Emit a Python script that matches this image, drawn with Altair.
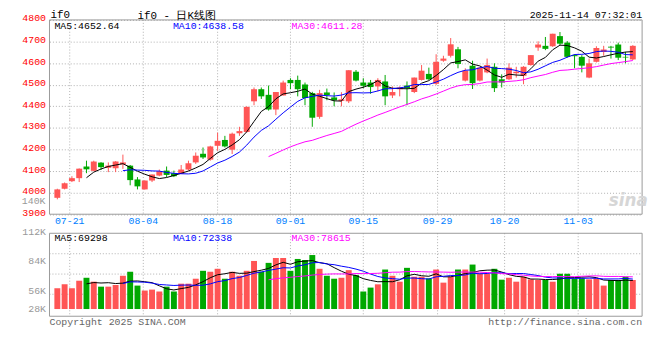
import altair as alt
import pandas as pd

# ---------------- data (IF0 daily K-line) ----------------
OPEN = [3976, 4018, 4053, 4067, 4121, 4101, 4139, 4115, 4113, 4131,
        4125, 4061, 4015, 4056, 4079, 4102, 4090, 4087, 4107, 4140,
        4180, 4153, 4217, 4244, 4199, 4275, 4281, 4423, 4479, 4453,
        4385, 4450, 4522, 4522, 4501, 4461, 4351, 4464, 4441, 4425,
        4423, 4560, 4510, 4510, 4492, 4515, 4450, 4479, 4496, 4466,
        4522, 4550, 4504, 4611, 4634, 4664, 4519, 4588, 4519, 4557,
        4583, 4525, 4525, 4553, 4541, 4591, 4672, 4680, 4678, 4725,
        4695, 4637, 4629, 4533, 4606, 4652, 4676, 4686, 4629, 4617]
HIGH = [4018, 4047, 4076, 4112, 4148, 4148, 4141, 4140, 4146, 4176,
        4128, 4072, 4057, 4084, 4107, 4121, 4102, 4128, 4148, 4186,
        4209, 4217, 4278, 4263, 4278, 4305, 4400, 4487, 4487, 4496,
        4466, 4519, 4530, 4542, 4510, 4467, 4476, 4482, 4464, 4465,
        4567, 4568, 4530, 4522, 4530, 4545, 4492, 4492, 4515, 4533,
        4591, 4579, 4641, 4634, 4716, 4675, 4576, 4611, 4579, 4621,
        4599, 4548, 4599, 4583, 4586, 4637, 4701, 4721, 4736, 4744,
        4702, 4641, 4637, 4621, 4678, 4680, 4680, 4695, 4652, 4683]
LOW = [3969, 4015, 4049, 4049, 4090, 4099, 4105, 4095, 4095, 4110,
       4034, 4015, 4014, 4049, 4076, 4072, 4072, 4087, 4102, 4133,
       4156, 4148, 4194, 4209, 4179, 4263, 4278, 4405, 4434, 4380,
       4359, 4450, 4479, 4446, 4405, 4305, 4342, 4428, 4400, 4400,
       4415, 4515, 4484, 4458, 4469, 4405, 4438, 4446, 4405, 4461,
       4519, 4522, 4499, 4606, 4626, 4576, 4515, 4480, 4515, 4553,
       4466, 4487, 4522, 4533, 4502, 4588, 4657, 4660, 4675, 4683,
       4625, 4576, 4557, 4530, 4603, 4634, 4621, 4614, 4599, 4614]
CLOSE = [4015, 4044, 4067, 4111, 4108, 4144, 4118, 4125, 4144, 4140,
         4058, 4029, 4056, 4084, 4099, 4082, 4076, 4107, 4136, 4171,
         4163, 4214, 4240, 4214, 4273, 4285, 4397, 4479, 4446, 4385,
         4466, 4510, 4507, 4479, 4438, 4347, 4461, 4452, 4428, 4432,
         4567, 4519, 4495, 4489, 4522, 4446, 4466, 4487, 4484, 4533,
         4565, 4525, 4606, 4621, 4687, 4596, 4565, 4507, 4579, 4591,
         4484, 4510, 4579, 4560, 4583, 4637, 4686, 4666, 4736, 4690,
         4629, 4632, 4588, 4599, 4670, 4663, 4672, 4625, 4626, 4680]
VOLUME = [60000, 63700, 60000, 67100, 69900, 66200, 61500, 61500, 63100, 71800,
          75600, 62500, 57800, 58700, 56900, 61500, 56900, 64300, 64300, 69000,
          76500, 75600, 78400, 69000, 75600, 71800, 76500, 85800, 75600, 84000,
          88600, 88600, 76500, 87700, 86800, 91400, 78400, 71800, 69000, 69900,
          77100, 72400, 56900, 60600, 63700, 77700, 71800, 66200, 79300, 70900,
          70900, 69300, 77700, 65300, 70900, 77700, 77700, 82400, 74000, 73700,
          78400, 68100, 69900, 66200, 70900, 68400, 67800, 67800, 66200, 73700,
          73700, 69300, 69300, 68400, 69300, 62500, 67800, 67800, 70900, 67800]

DATE_LABELS = ["07-21", "08-04", "08-18", "09-01", "09-15", "09-29", "10-20", "11-03"]
DATE_POS = [1.7, 11.8, 22.0, 32.0, 42.0, 52.2, 61.4, 71.5]

PRICE_TICKS = [3900, 4000, 4100, 4200, 4300, 4400, 4500, 4600, 4700, 4800]
VOL_TICKS = [112000, 84000, 56000, 38500]
VOL_TICK_TEXT = ["112K", "84K", "56K", "28K"]
VOL_GRID = [92650, 73400, 54300]

TITLE_LEFT = "if0"
TITLE_MID = "if0 - 日K线图"
TIMESTAMP = "2025-11-14 07:32:01"
PRICE_MA_TEXT = ["MA5:4652.64", "MA10:4638.58", "MA30:4611.28"]
VOL_MA_TEXT = ["MA5:69298", "MA10:72338", "MA30:78615"]
SIDE_TEXT = "140K"
COPYRIGHT = "Copyright 2025 SINA.COM"
URL = "http://finance.sina.com.cn"

# ---------------- styling ----------------
MONO = "Liberation Mono"
RED = "#ff5555"
GREEN = "#00a800"
MA_COLORS = ["#000000", "#0000ff", "#ff00ff"]
GRID = "#b0b0b0"
FRAME = "#999999"
W, H = 600, 300

n = len(CLOSE)
df = pd.DataFrame({"i": list(range(n)), "open": OPEN, "high": HIGH, "low": LOW,
                   "close": CLOSE, "volume": VOLUME})
dates_df = pd.DataFrame({"pos": DATE_POS, "label": DATE_LABELS})
one = pd.DataFrame({"k": [0]})

xs = alt.Scale(domain=[-0.4, n - 0.4], nice=False, zero=False)
PRICE_TOP, PRICE_BOTTOM = 4800, 3900
ps = alt.Scale(domain=[3427.4, PRICE_TOP], nice=False, zero=False)
VOL_TOP, VOL_BOTTOM, VOL_BASE = 112000, 33495, 40320
vs = alt.Scale(domain=[VOL_BOTTOM, 313870], nice=False, zero=False)

price_axis = alt.Axis(values=PRICE_TICKS, orient="left", title=None, domain=False, ticks=False,
                      grid=True, gridColor=GRID, gridDash=[1, 2], gridWidth=1, format="d",
                      labelColor="#ff0000", labelFont=MONO, labelFontSize=10, labelPadding=4,
                      labelOffset=-2, labelOverlap=False)
vol_expr = " : ".join(f"datum.value == {v} ? '{t}'" for v, t in zip(VOL_TICKS, VOL_TICK_TEXT)) + " : ''"
vol_axis = alt.Axis(values=VOL_TICKS, orient="left", title=None, domain=False, ticks=False,
                    grid=False, labelColor="#999999", labelFont=MONO, labelFontSize=10,
                    labelPadding=4, labelOffset=-2, labelOverlap=False, labelExpr=vol_expr)

X = alt.X("i:Q", scale=xs, axis=None)
up = alt.datum.close >= alt.datum.open
col = alt.condition(up, alt.value(RED), alt.value(GREEN))


def text_at(txt, x, y, color="#000000", align="left", size=10, font=MONO, **kw):
    return alt.Chart(one).mark_text(text=txt, align=align, baseline="middle", font=font,
                                    fontSize=size, color=color, **kw).encode(
        x=alt.value(x), y=alt.value(y))


def ma_layers(field, scale, axis):
    out = []
    for w, c in zip([5, 10, 30], MA_COLORS):
        out.append(
            alt.Chart(df)
            .transform_window(ma=f"mean({field})", cnt="count()", frame=[-(w - 1), 0],
                              sort=[alt.SortField("i")])
            .transform_filter(f"datum.cnt == {w}")
            .mark_line(color=c, strokeWidth=1)
            .encode(x=X, y=alt.Y("ma:Q", scale=scale, axis=axis))
        )
    return out


# ---------------- price panel ----------------
p_vgrid = alt.Chart(dates_df).mark_rule(color=GRID, strokeDash=[1, 2]).encode(
    x=alt.X("pos:Q", scale=xs, axis=None),
    y=alt.YDatum(PRICE_TOP, scale=ps, axis=price_axis), y2=alt.Y2Datum(PRICE_BOTTOM))
p_frame = alt.Chart(one).mark_rect(fill="transparent", stroke=FRAME, strokeWidth=1).encode(
    x=alt.value(0), x2=alt.value(W),
    y=alt.YDatum(PRICE_TOP, scale=ps, axis=price_axis), y2=alt.Y2Datum(PRICE_BOTTOM))
wick = alt.Chart(df).mark_rule(strokeWidth=1).encode(
    x=X, y=alt.Y("low:Q", scale=ps, axis=price_axis), y2="high:Q", color=col)
body = alt.Chart(df).mark_bar(size=6).encode(
    x=X, y=alt.Y("open:Q", scale=ps, axis=price_axis), y2="close:Q", color=col)
date_text = alt.Chart(dates_df).mark_text(font=MONO, fontSize=10, color="#0080ff",
                                          baseline="middle", dy=7).encode(
    x=alt.X("pos:Q", scale=xs, axis=None),
    y=alt.YDatum(PRICE_BOTTOM, scale=ps, axis=price_axis), text="label:N")

price = alt.layer(
    p_vgrid, p_frame, wick, body, *ma_layers("close", ps, price_axis), date_text,
    text_at(PRICE_MA_TEXT[0], 5, 6.5, MA_COLORS[0]),
    text_at(PRICE_MA_TEXT[1], 125, 6.5, MA_COLORS[1]),
    text_at(PRICE_MA_TEXT[2], 245, 6.5, MA_COLORS[2]),
    text_at(SIDE_TEXT, -4, 183.5, "#999999", align="right"),
    text_at(TITLE_LEFT, 1, -4.5, size=11),
    text_at(TITLE_MID, 89, -4, size=11),
    text_at(TIMESTAMP, W, -4.5, align="right", size=10),
    text_at("sina", 586, 183, "#d6d6d6", align="center", size=17, font="DejaVu Sans",
            fontStyle="italic", fontWeight="bold"),
)

# ---------------- volume panel ----------------
v_vgrid = alt.Chart(dates_df).mark_rule(color=GRID, strokeDash=[1, 2]).encode(
    x=alt.X("pos:Q", scale=xs, axis=None),
    y=alt.YDatum(VOL_TOP, scale=vs, axis=vol_axis), y2=alt.Y2Datum(VOL_BOTTOM))
v_hgrid = alt.Chart(pd.DataFrame({"g": VOL_GRID})).mark_rule(color=GRID, strokeDash=[1, 2]).encode(
    x=alt.value(0), x2=alt.value(W), y=alt.Y("g:Q", scale=vs, axis=vol_axis))
v_frame = alt.Chart(one).mark_rect(fill="transparent", stroke=FRAME, strokeWidth=1).encode(
    x=alt.value(0), x2=alt.value(W),
    y=alt.YDatum(VOL_TOP, scale=vs, axis=vol_axis), y2=alt.Y2Datum(VOL_BOTTOM))
vbars = alt.Chart(df).mark_bar(size=6).encode(
    x=X, y=alt.Y("volume:Q", scale=vs, axis=vol_axis), y2=alt.Y2Datum(VOL_BASE), color=col)

volume = alt.layer(
    v_vgrid, v_hgrid, v_frame, vbars, *ma_layers("volume", vs, vol_axis),
    text_at(VOL_MA_TEXT[0], 5, 221, MA_COLORS[0]),
    text_at(VOL_MA_TEXT[1], 125, 221, MA_COLORS[1]),
    text_at(VOL_MA_TEXT[2], 245, 221, MA_COLORS[2]),
    text_at(COPYRIGHT, 0, 305.5, "#666666"),
    text_at(URL, W, 305.5, "#666666", align="right"),
)

chart = (
    alt.layer(price, volume)
    .resolve_scale(y="independent")
    .properties(width=W, height=H, padding={"left": 42, "top": 10, "right": 10, "bottom": 24},
                autosize=alt.AutoSizeParams(type="none"))
    .configure_view(stroke=None)
)

chart.save("out.html", embed_options={"renderer": "svg", "actions": False})
